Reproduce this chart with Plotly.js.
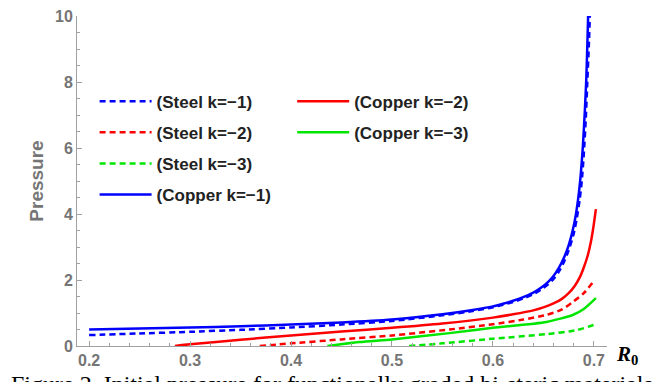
<!DOCTYPE html>
<html>
<head>
<meta charset="utf-8">
<script src="https://cdn.plot.ly/plotly-3.0.1.min.js"></script>
<style>html,body{margin:0;padding:0;background:#fff;}#chart{width:667px;height:382px;}</style>
</head>
<body>
<div id="chart"></div>
<script>
// Data
const steel1R = [0.2,0.25,0.3,0.35,0.4,0.45,0.5,0.55,0.58,0.6,0.61,0.62,0.63,0.64,0.65,0.655,0.66,0.665,0.67,0.675,0.68,0.683,0.686,0.688,0.69,0.692,0.6935,0.695,0.696];
const steel1P = [0.33,0.38,0.43,0.49,0.56,0.65,0.76,0.93,1.06,1.17,1.25,1.33,1.44,1.57,1.76,1.88,2.03,2.24,2.52,2.9,3.4,3.85,4.45,5.0,5.8,6.9,8.0,9.1,10.0];
const steel2R = [0.369,0.4,0.45,0.5,0.557,0.6,0.63,0.653,0.668,0.679,0.69,0.70];
const steel2P = [0,0.08,0.2,0.32,0.5,0.66,0.8,0.94,1.1,1.33,1.6,1.97];
const steel3R = [0.517,0.55,0.6,0.653,0.683,0.70];
const steel3P = [0,0.08,0.22,0.36,0.48,0.64];
const copper1R = [0.2,0.25,0.3,0.35,0.4,0.45,0.5,0.55,0.58,0.6,0.61,0.62,0.63,0.64,0.65,0.655,0.66,0.665,0.67,0.675,0.679,0.682,0.685,0.687,0.689,0.691,0.6925,0.6935,0.6943];
const copper1P = [0.50,0.53,0.56,0.60,0.65,0.71,0.80,0.96,1.09,1.20,1.28,1.37,1.48,1.62,1.82,1.95,2.12,2.35,2.65,3.05,3.5,3.95,4.6,5.2,6.0,7.1,8.1,9.1,10.0];
const copper2R = [0.285,0.3,0.35,0.4,0.45,0.5,0.55,0.6,0.62,0.64,0.65,0.66,0.668,0.675,0.681,0.686,0.69,0.694,0.697,0.6995,0.702];
const copper2P = [0,0.05,0.19,0.32,0.44,0.55,0.68,0.86,0.96,1.08,1.17,1.29,1.42,1.6,1.82,2.08,2.38,2.75,3.15,3.6,4.15];
const copper3R = [0.436,0.468,0.5,0.557,0.6,0.653,0.679,0.69,0.702];
const copper3P = [0,0.12,0.2,0.39,0.55,0.73,0.94,1.12,1.45];
const names = ['(Steel k=\u22121)','(Steel k=\u22122)','(Steel k=\u22123)','(Copper k=\u22121)','(Copper k=\u22122)','(Copper k=\u22123)'];
const xTicks = [0.2,0.3,0.4,0.5,0.6,0.7];
const xTickText = ['0.2','0.3','0.4','0.5','0.6','0.7'];
const yTicks = [0,2,4,6,8,10];

const BLUE='#0000ff', RED='#ff0000', GREEN='#00e600';
function tr(x,y,name,color,dash,legend,grp){
  return {x:x,y:y,name:name,type:'scatter',mode:'lines',
    line:{color:color,width:2.5,dash:dash,shape:'spline',smoothing:0.6},
    legend:legend,legendgroup:grp,hoverinfo:'skip'};
}
const data = [
  tr(steel1R,steel1P,names[0],BLUE,'6px,4px','legend','a'),
  tr(steel2R,steel2P,names[1],RED,'6px,4px','legend','b'),
  tr(steel3R,steel3P,names[2],GREEN,'6px,4px','legend','c'),
  tr(copper1R,copper1P,names[3],BLUE,'solid','legend','d'),
  tr(copper2R,copper2P,names[4],RED,'solid','legend2','e'),
  tr(copper3R,copper3P,names[5],GREEN,'solid','legend2','f')
];
const tickFont={family:'Liberation Sans, Arial, sans-serif',size:16,color:'#757575',weight:'bold'};
const legFont={family:'Liberation Sans, Arial, sans-serif',size:17,color:'#222',weight:'bold'};
const layout = {
  width:667,height:382,
  margin:{l:77,r:60,t:16,b:36},
  paper_bgcolor:'#fff',plot_bgcolor:'#fff',
  showlegend:true,
  xaxis:{range:[0.188,0.713],showgrid:false,zeroline:false,showline:true,linecolor:'#a0a0a0',linewidth:1,
    ticks:'inside',ticklen:5,tickcolor:'#a0a0a0',tickvals:xTicks,ticktext:xTickText,tickfont:tickFont,
    minor:{dtick:0.02,tick0:0.2,ticks:'inside',ticklen:3,tickcolor:'#a0a0a0'}},
  yaxis:{range:[0,10],showgrid:false,zeroline:false,showline:true,linecolor:'#a0a0a0',linewidth:1,
    ticks:'inside',ticklen:5,tickcolor:'#a0a0a0',tickvals:yTicks,tickfont:tickFont,
    minor:{dtick:0.5,tick0:0,ticks:'inside',ticklen:3,tickcolor:'#a0a0a0'},
    title:{text:'Pressure',font:{family:'Liberation Sans, Arial, sans-serif',size:19,color:'#757575',weight:'bold'},standoff:6}},
  legend:{x:0.0332,y:0.795,xanchor:'left',yanchor:'top',bgcolor:'rgba(0,0,0,0)',font:legFont,
    tracegroupgap:6,itemwidth:52,traceorder:'grouped'},
  legend2:{x:0.406,y:0.795,xanchor:'left',yanchor:'top',bgcolor:'rgba(0,0,0,0)',font:legFont,
    tracegroupgap:6,itemwidth:52,traceorder:'grouped'},
  annotations:[
    {xref:'paper',yref:'paper',x:1.013,y:-0.028,xanchor:'left',yanchor:'middle',showarrow:false,
     text:'<b><i>R</i></b><b><sub>0</sub></b>',font:{family:'Liberation Serif, Times New Roman, serif',size:21,color:'#000'}},
    {xref:'paper',yref:'paper',x:-0.128,y:-0.07,xanchor:'left',yanchor:'top',showarrow:false,
     text:'Figure 2. Initial pressure for functionally graded bi-steric materials',
     font:{family:'Liberation Serif, Times New Roman, serif',size:24,color:'#000'}}
  ]
};
Plotly.newPlot('chart',data,layout,{displayModeBar:false,staticPlot:true});
</script>
</body>
</html>
